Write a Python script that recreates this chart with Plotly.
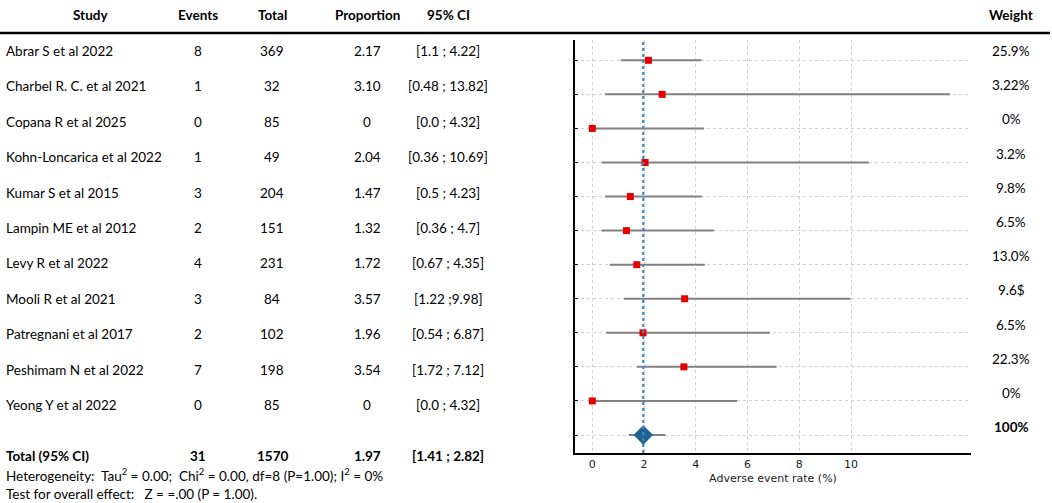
import plotly.graph_objects as go

# ---------------- data ----------------
studies = ["Abrar S et al 2022", "Charbel R. C. et al 2021", "Copana R et al 2025",
           "Kohn-Loncarica et al 2022", "Kumar S et al 2015", "Lampin ME et al 2012",
           "Levy R et al 2022", "Mooli R et al 2021", "Patregnani et al 2017",
           "Peshimam N et al 2022", "Yeong Y et al 2022"]
events = [8, 1, 0, 1, 3, 2, 4, 3, 2, 7, 0]
totals = [369, 32, 85, 49, 204, 151, 231, 84, 102, 198, 85]
proportion_labels = ["2.17", "3.10", "0", "2.04", "1.47", "1.32", "1.72", "3.57", "1.96", "3.54", "0"]
ci_labels = ["[1.1 ; 4.22]", "[0.48 ; 13.82]", "[0.0 ; 4.32]", "[0.36 ; 10.69]", "[0.5 ; 4.23]",
             "[0.36 ; 4.7]", "[0.67 ; 4.35]", "[1.22 ;9.98]", "[0.54 ; 6.87]", "[1.72 ; 7.12]",
             "[0.0 ; 4.32]"]
weight_labels = ["25.9%", "3.22%", "0%", "3.2%", "9.8%", "6.5%", "13.0%", "9.6$", "6.5%",
                 "22.3%", "0%", "100%"]

# plotted estimates (as drawn in the figure)
rate = [2.17, 2.70, 0.0, 2.04, 1.47, 1.32, 1.72, 3.57, 1.96, 3.54, 0.0]
ci_low = [1.10, 0.48, 0.0, 0.36, 0.50, 0.36, 0.67, 1.22, 0.54, 1.72, 0.0]
ci_high = [4.22, 13.82, 4.32, 10.69, 4.23, 4.70, 4.35, 9.98, 6.87, 7.12, 5.60]

total_events = 31
total_n = 1570
pooled = 1.97
pooled_low = 1.41
pooled_high = 2.82

x_ticks = [0, 2, 4, 6, 8, 10]
x_title = "Adverse event rate (%)"

# ---------------- figure ----------------
W, H = 1052, 503
TXT = "Lato"
AX = "DejaVu Sans"
FS = 13.5

def px(x):
    return x / W

def py(y):
    return 1 - y / H

rows = list(range(1, len(studies) + 1))
total_row = len(studies) + 1

fig = go.Figure()

# study points with CI
fig.add_trace(go.Scatter(
    x=rate, y=rows, mode="markers",
    marker=dict(symbol="square", size=7, color="#e60000"),
    error_x=dict(type="data", symmetric=False,
                 array=[h - r for h, r in zip(ci_high, rate)],
                 arrayminus=[r - l for r, l in zip(rate, ci_low)],
                 color="#808080", thickness=2, width=0),
    showlegend=False, hoverinfo="skip"))

# pooled estimate
fig.add_trace(go.Scatter(
    x=[pooled], y=[total_row], mode="markers",
    marker=dict(symbol="diamond", size=15, color="#1c6295"),
    error_x=dict(type="data", symmetric=False,
                 array=[pooled_high - pooled], arrayminus=[pooled - pooled_low],
                 color="#808080", thickness=2, width=0),
    showlegend=False, hoverinfo="skip"))

# pooled reference line
fig.add_shape(type="line", xref="x", yref="paper", x0=pooled, x1=pooled,
              y0=py(453), y1=py(40),
              line=dict(color="#3f86c8", width=2.2, dash="dot"), layer="above")

# header rule
fig.add_shape(type="line", xref="paper", yref="paper", x0=0, x1=px(1050),
              y0=py(33), y1=py(33), line=dict(color="black", width=2.5))

ann = []

def add(text, x, y, anchor="center", bold=False, size=FS):
    ann.append(dict(text=f"<b>{text}</b>" if bold else text, x=px(x), y=py(y),
                    xref="paper", yref="paper", xanchor=anchor, yanchor="middle",
                    showarrow=False, font=dict(family=TXT, size=size, color="black")))

# headers
col_x = dict(events=198, total=272, prop=367, ci=448, weight=1011)
add("Study", 90, 15, bold=True)
add("Events", col_x["events"], 15, bold=True)
add("Total", col_x["total"], 15, bold=True)
add("Proportion", col_x["prop"], 15, bold=True)
add("95% CI", col_x["ci"], 15, bold=True)
add("Weight", col_x["weight"], 15, bold=True)

for i, s in enumerate(studies):
    y = 51 + i * 35.4
    add(s, 4, y, anchor="left")
    add(str(events[i]), col_x["events"], y)
    add(str(totals[i]), col_x["total"], y)
    add(proportion_labels[i], col_x["prop"], y)
    add(ci_labels[i], col_x["ci"], y)

for i, w in enumerate(weight_labels):
    add(w, col_x["weight"], 51 + i * 34.2, bold=(i == len(weight_labels) - 1))

add("Total (95% CI)", 4, 456, anchor="left", bold=True)
add(str(total_events), col_x["events"], 456, bold=True)
add(str(total_n), col_x["total"], 456, bold=True)
add(f"{pooled:.2f}", col_x["prop"], 456, bold=True)
add(f"[{pooled_low:.2f} ; {pooled_high:.2f}]", col_x["ci"], 456, bold=True)
add("Heterogeneity:\u00a0\u00a0Tau<sup>2</sup> = 0.00;\u00a0\u00a0Chi<sup>2</sup> = 0.00, df=8 (P=1.00); I<sup>2</sup> = 0%",
    4, 475, anchor="left")
add("Test for overall effect:\u00a0\u00a0 Z = =.00 (P = 1.00).", 4, 494, anchor="left")

x0, x1 = 575, 971
unit = 25.87
zero = 592.3
row_gap = 34.06

fig.update_layout(
    width=W, height=H,
    margin=dict(l=0, r=0, t=0, b=0),
    paper_bgcolor="white", plot_bgcolor="white",
    annotations=ann,
    xaxis=dict(domain=[px(x0), px(x1)],
               range=[(x0 - zero) / unit, (x1 - zero) / unit],
               tickvals=x_ticks, ticks="", showgrid=True, griddash="dot",
               gridcolor="#cfcfcf", gridwidth=1, zeroline=False,
               showline=True, linecolor="black", linewidth=2,
               tickfont=dict(family=AX, size=11, color="#222"),
               title=dict(text=x_title, font=dict(family=AX, size=11, color="#222"), standoff=4),
               automargin=False),
    yaxis=dict(domain=[py(453), py(40)],
               range=[total_row + 18 / row_gap, 1 - 20.3 / row_gap],
               tickvals=rows + [total_row], ticks="inside", ticklen=3, tickcolor="black",
               showticklabels=False, showgrid=True, griddash="dot",
               gridcolor="#cfcfcf", gridwidth=1, zeroline=False,
               showline=True, linecolor="black", linewidth=2, automargin=False),
)

fig.write_html("out.html",
               config={"displayModeBar": False},
               post_script="document.body.style.margin='0px';document.body.style.overflow='hidden';")
